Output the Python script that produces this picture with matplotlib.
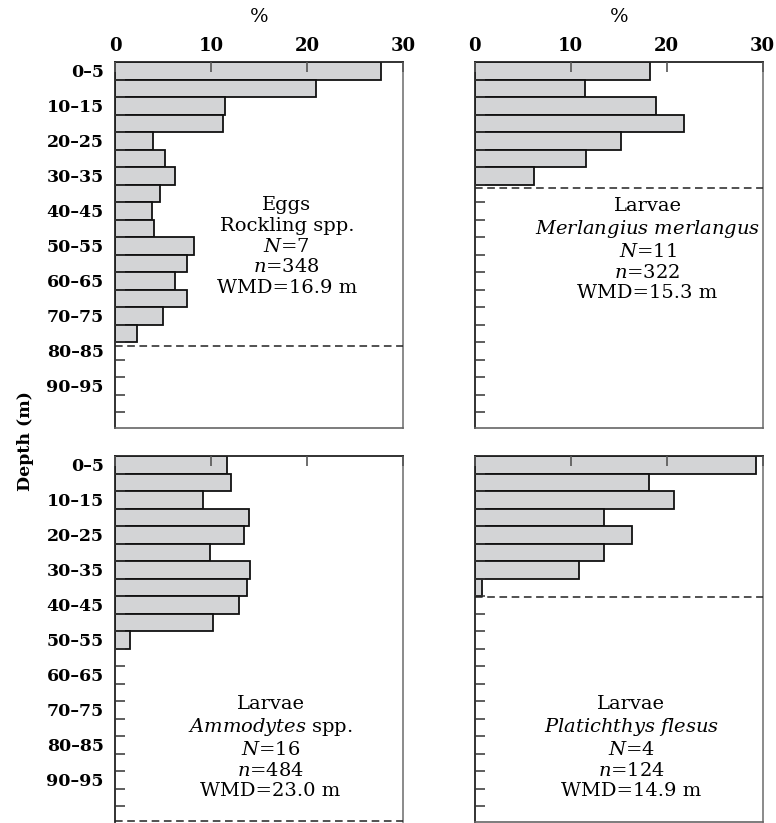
import numpy as np
import matplotlib.pyplot as plt

plt.rcParams['font.family'] = 'DejaVu Serif'
plt.rcParams['mathtext.fontset'] = 'dejavuserif'

# percentage of catch per 5 m depth bin, starting at 0 m
rockling_eggs = [27.7, 20.9, 11.5, 11.3, 4.0, 5.2, 6.2, 4.65, 3.9, 4.1,
                 8.2, 7.5, 6.2, 7.45, 5.0, 2.3]
merlangius = [18.3, 11.5, 18.9, 21.8, 15.2, 11.6, 6.2]
ammodytes = [11.7, 12.1, 9.2, 14.0, 13.4, 9.9, 14.1, 13.8, 12.9, 10.2, 1.6]
platichthys = [29.3, 18.2, 20.8, 13.5, 16.35, 13.5, 10.9, 0.8]

# deepest sampled depth (dashed line)
max_depth = [81.0, 36.0, 104.2, 40.3]

labels = ["Eggs\nRockling spp.\n$\\it{N}$=7\n$\\it{n}$=348\nWMD=16.9 m",
          "Larvae\n$\\it{Merlangius\\ merlangus}$\n$\\it{N}$=11\n$\\it{n}$=322\nWMD=15.3 m",
          "Larvae\n$\\it{Ammodytes}$ spp.\n$\\it{N}$=16\n$\\it{n}$=484\nWMD=23.0 m",
          "Larvae\n$\\it{Platichthys\\ flesus}$\n$\\it{N}$=4\n$\\it{n}$=124\nWMD=14.9 m"]
text_pos = [(17.9, 38.3), (18.0, 38.5), (16.2, 68.2), (16.3, 68.2)]

depth_labels = ["0–5", "10–15", "20–25", "30–35", "40–45",
                "50–55", "60–65", "70–75", "80–85", "90–95"]
depth_label_pos = np.arange(2.5, 95, 10)

series = [rockling_eggs, merlangius, ammodytes, platichthys]

W, H = 776, 823
fig = plt.figure(figsize=(W / 100, H / 100), dpi=100)

boxes = [(115, 62), (474.7, 62), (115, 456), (474.7, 456)]
aw, ah = 288, 365.5

for k in range(4):
    x0, y0 = boxes[k]
    ax = fig.add_axes([x0 / W, 1 - (y0 + ah) / H, aw / W, ah / H])
    ax.set_axisbelow(False)
    vals = series[k]
    tops = np.arange(len(vals)) * 5
    ax.barh(tops, vals, height=5, align='edge', color='#d3d4d6',
            edgecolor='#111111', linewidth=1.3, zorder=1)
    ax.set_xlim(0, 30)
    ax.set_ylim(104.4, 0)

    ax.hlines(max_depth[k], 0, 30, colors='#222222', linestyles=(0, (5, 3)),
              linewidth=1.1, zorder=3, clip_on=False)

    for s in ['left', 'top']:
        ax.spines[s].set_color('#222222')
        ax.spines[s].set_linewidth(1.3)
    ax.spines['right'].set_color('#777777')
    ax.spines['right'].set_linewidth(1.2)
    ax.spines['bottom'].set_color('#666666')
    ax.spines['bottom'].set_linewidth(1.2)
    if k == 2:
        ax.spines['bottom'].set_visible(False)

    ax.xaxis.set_ticks_position('top')
    ax.set_xticks([0, 10, 20, 30])
    ax.tick_params(axis='x', direction='in', length=7, width=1.2,
                   color='#555555', pad=5, labelsize=13)
    if k < 2:
        ax.set_xticklabels(['0', '10', '20', '30'], fontweight='bold')
        ax.xaxis.set_label_position('top')
        ax.set_xlabel('%', fontsize=14, labelpad=11)
    else:
        ax.set_xticklabels([])

    ax.set_yticks(np.arange(5, 104, 5), minor=True)
    ax.set_yticks(depth_label_pos)
    ax.tick_params(axis='y', which='major', length=0, pad=8, labelsize=12.5)
    ax.tick_params(axis='y', which='minor', direction='in', length=7,
                   width=1.1, color='#333333')
    if k % 2 == 0:
        ax.set_yticklabels(depth_labels, fontweight='bold')
    else:
        ax.set_yticklabels([])

    tx, ty = text_pos[k]
    ax.text(tx, ty, labels[k], ha='center', va='top', fontsize=14,
            linespacing=1.2, zorder=4)

fig.text(26 / W, 1 - 441.5 / H, 'Depth (m)', rotation=90, ha='center',
         va='center', fontsize=12.5, fontweight='bold')

fig.savefig('out.png', dpi=100)
